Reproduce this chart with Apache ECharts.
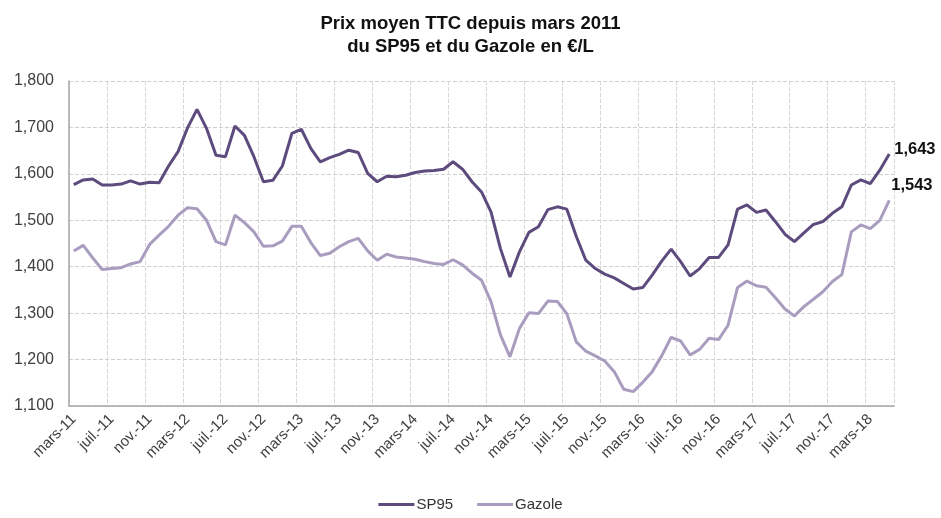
<!DOCTYPE html>
<html>
<head>
<meta charset="utf-8">
<script src="https://cdn.jsdelivr.net/npm/echarts@6/dist/echarts.min.js"></script>
<style>html,body{margin:0;padding:0;background:#fff}#c{width:941px;height:518px}</style>
</head>
<body>
<div id="c"></div>
<script>
var categories = [
 'mars-11','avr.-11','mai-11','juin-11','juil.-11','août-11','sept.-11','oct.-11','nov.-11','déc.-11',
 'janv.-12','févr.-12','mars-12','avr.-12','mai-12','juin-12','juil.-12','août-12','sept.-12','oct.-12','nov.-12','déc.-12',
 'janv.-13','févr.-13','mars-13','avr.-13','mai-13','juin-13','juil.-13','août-13','sept.-13','oct.-13','nov.-13','déc.-13',
 'janv.-14','févr.-14','mars-14','avr.-14','mai-14','juin-14','juil.-14','août-14','sept.-14','oct.-14','nov.-14','déc.-14',
 'janv.-15','févr.-15','mars-15','avr.-15','mai-15','juin-15','juil.-15','août-15','sept.-15','oct.-15','nov.-15','déc.-15',
 'janv.-16','févr.-16','mars-16','avr.-16','mai-16','juin-16','juil.-16','août-16','sept.-16','oct.-16','nov.-16','déc.-16',
 'janv.-17','févr.-17','mars-17','avr.-17','mai-17','juin-17','juil.-17','août-17','sept.-17','oct.-17','nov.-17','déc.-17',
 'janv.-18','févr.-18','mars-18','avr.-18','mai-18'
];
var sp95 = [
 1.577,1.587,1.589,1.576,1.576,1.578,1.585,1.578,1.582,1.581,
 1.617,1.648,1.699,1.739,1.698,1.640,1.637,1.703,1.683,1.637,1.583,1.586,
 1.617,1.687,1.696,1.655,1.626,1.635,1.642,1.651,1.646,1.601,1.583,1.595,
 1.594,1.597,1.603,1.606,1.607,1.610,1.626,1.610,1.583,1.561,1.518,1.439,
 1.378,1.432,1.474,1.486,1.523,1.529,1.524,1.465,1.414,1.396,1.384,1.376,
 1.364,1.352,1.355,1.382,1.412,1.438,1.411,1.380,1.396,1.420,1.420,1.447,
 1.524,1.533,1.517,1.522,1.497,1.470,1.454,1.473,1.491,1.497,1.515,1.529,
 1.576,1.587,1.579,1.608,1.643
];
var gazole = [
 1.434,1.446,1.419,1.394,1.396,1.398,1.406,1.411,1.448,1.468,
 1.487,1.511,1.527,1.525,1.500,1.454,1.447,1.511,1.495,1.475,1.444,1.445,
 1.455,1.487,1.487,1.452,1.424,1.429,1.443,1.454,1.461,1.434,1.414,1.427,
 1.421,1.419,1.416,1.411,1.407,1.405,1.415,1.404,1.386,1.371,1.325,1.253,
 1.206,1.267,1.301,1.299,1.326,1.325,1.299,1.238,1.218,1.208,1.197,1.174,
 1.136,1.131,1.151,1.174,1.208,1.248,1.240,1.210,1.222,1.246,1.243,1.274,
 1.355,1.369,1.359,1.356,1.333,1.309,1.294,1.314,1.330,1.346,1.368,1.383,
 1.475,1.490,1.482,1.500,1.543
];
var yTicks = { min: 1.1, max: 1.8, step: 0.1 };

function fr(v) { return v.toFixed(3).replace('.', ','); }

function endLabel(off) {
  return { show: true, distance: 5, offset: off,
    formatter: function (p) { return fr(p.value); },
    fontFamily: 'Liberation Sans', fontWeight: 'bold', fontSize: 16.5, color: '#111' };
}

var chart = echarts.init(document.getElementById('c'), null, { renderer: 'canvas' });
chart.setOption({
  animation: false,
  backgroundColor: '#fff',
  title: {
    text: 'Prix moyen TTC depuis mars 2011\ndu SP95 et du Gazole en €/L',
    left: 'center', top: 7,
    textStyle: { fontFamily: 'Liberation Sans', fontWeight: 'bold', fontSize: 18.5, color: '#111', lineHeight: 23 }
  },
  legend: {
    bottom: 1, left: 'center', itemWidth: 36, itemHeight: 3, itemGap: 24,
    icon: 'rect',
    textStyle: { fontFamily: 'Liberation Sans', fontSize: 15, color: '#333', padding: [0, 0, 0, -3] },
    data: ['SP95', 'Gazole']
  },
  grid: { left: 69, right: 47, top: 81, bottom: 112, containLabel: false },
  xAxis: {
    type: 'category', data: categories, boundaryGap: true,
    axisLine: { lineStyle: { color: '#a6a6a6', width: 1.5 } },
    axisTick: { show: false },
    axisLabel: { interval: 3, rotate: 45, fontFamily: 'Liberation Sans', fontSize: 15, color: '#404040', margin: 11 },
    splitLine: { show: true, interval: function (i) { return i % 4 === 0 && i < categories.length; },
      lineStyle: { color: '#d6d6d6', type: 'dashed', width: 1 } }
  },
  yAxis: {
    type: 'value', min: yTicks.min, max: yTicks.max, interval: yTicks.step,
    axisLine: { show: true, lineStyle: { color: '#a6a6a6', width: 1.5 } },
    axisTick: { show: false },
    axisLabel: { fontFamily: 'Liberation Sans', fontSize: 16, color: '#404040', margin: 15,
      formatter: function (v) { return fr(v); } },
    splitLine: { lineStyle: { color: '#cfcfcf', type: 'dashed', width: 1 } }
  },
  series: [
    { name: 'SP95', type: 'line', data: sp95, symbol: 'none',
      lineStyle: { color: '#5e4b7e', width: 3 }, itemStyle: { color: '#5e4b7e' }, z: 3,
      endLabel: endLabel([0, -4]) },
    { name: 'Gazole', type: 'line', data: gazole, symbol: 'none',
      lineStyle: { color: '#a99dbf', width: 3 }, itemStyle: { color: '#a99dbf' }, z: 2,
      endLabel: endLabel([-3, -15]) }
  ]
});
</script>
</body>
</html>
